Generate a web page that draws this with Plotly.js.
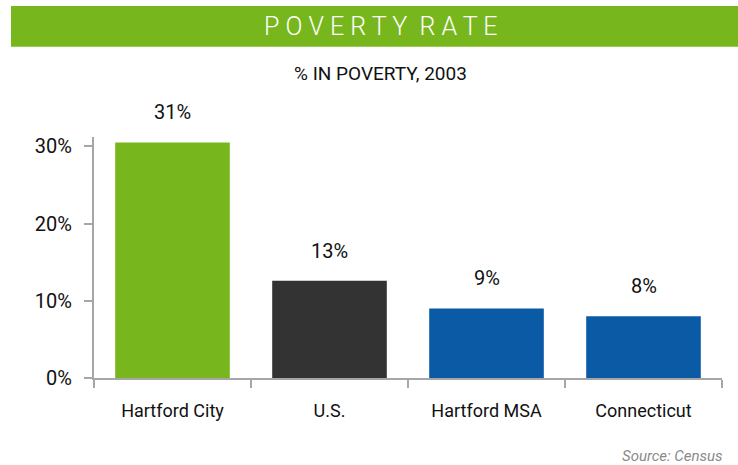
<!DOCTYPE html>
<html>
<head>
<meta charset="utf-8">
<script src="https://cdn.plot.ly/plotly-3.0.1.min.js"></script>
<style>
html,body{margin:0;padding:0;background:#fff;}
#chart{width:738px;height:465px;}
</style>
</head>
<body>
<div id="chart"></div>
<script>
var categories = ["Hartford City", "U.S.", "Hartford MSA", "Connecticut"];
var povertyRate = [30.5, 12.6, 9.0, 8.0];
var valueLabels = ["31%", "13%", "9%", "8%"];
var barColors = ["#77B71D", "#333333", "#0B5AA6", "#0B5AA6"];
var yTickVals = [0, 10, 20, 30];
var yTickText = ["0%", "10%", "20%", "30%"];

var FONT = "Roboto, 'Liberation Sans', Arial, sans-serif";

var trace = {
  type: "bar",
  x: categories,
  y: povertyRate,
  marker: {color: barColors, line: {width: 0}},
  width: 0.73,
  hoverinfo: "x+y"
};

var annotations = categories.map(function (c, i) {
  return {
    x: c, y: povertyRate[i], xref: "x", yref: "y",
    text: valueLabels[i], showarrow: false,
    yanchor: "middle", yshift: 30,
    font: {family: FONT, size: 20, color: "#111"}
  };
});

annotations.push({
  xref: "paper", yref: "paper", x: 0.457, y: 1.46,
  text: "P O V E R T Y  R A T E", showarrow: false,
  xanchor: "center", yanchor: "middle",
  font: {family: "Roboto, sans-serif", size: 25, weight: 300, color: "#ffffff"}
});
annotations.push({
  xref: "paper", yref: "paper", x: 0.457, y: 1.265,
  text: "% IN POVERTY, 2003", showarrow: false,
  xanchor: "center", yanchor: "middle",
  font: {family: FONT, size: 19, color: "#111"}
});
annotations.push({
  xref: "paper", yref: "paper", x: 1.004, y: -0.322,
  text: "<i>Source: Census</i>", showarrow: false,
  xanchor: "right", yanchor: "middle",
  font: {family: FONT, size: 15, color: "#8a8a8a"}
});

var layout = {
  width: 738, height: 465,
  margin: {l: 94, r: 16, t: 137, b: 87},
  paper_bgcolor: "#ffffff",
  plot_bgcolor: "#ffffff",
  showlegend: false,
  font: {family: FONT, size: 20, color: "#111"},
  xaxis: {
    type: "category",
    showline: true, linecolor: "#a6a6a6", linewidth: 2,
    ticks: "outside", tickson: "boundaries", ticklen: 8, tickwidth: 2, tickcolor: "#a6a6a6",
    tickfont: {family: FONT, size: 18, color: "#111"},
    ticklabelstandoff: 15,
    showgrid: false, zeroline: false,
    fixedrange: true
  },
  yaxis: {
    range: [0, 31.2],
    tickvals: yTickVals, ticktext: yTickText,
    showline: true, linecolor: "#a6a6a6", linewidth: 2,
    ticks: "outside", ticklen: 8, tickwidth: 2, tickcolor: "#a6a6a6",
    tickfont: {family: FONT, size: 20, color: "#111"},
    ticklabelstandoff: 8,
    showgrid: false, zeroline: false,
    fixedrange: true
  },
  shapes: [{
    type: "rect", xref: "paper", yref: "paper",
    x0: -0.1322, x1: 1.035, y0: 1.374, y1: 1.544,
    fillcolor: "#77B71D", line: {width: 0}, layer: "below"
  }],
  annotations: annotations
};

Plotly.newPlot("chart", [trace], layout, {displayModeBar: false, staticPlot: true});
</script>
</body>
</html>
